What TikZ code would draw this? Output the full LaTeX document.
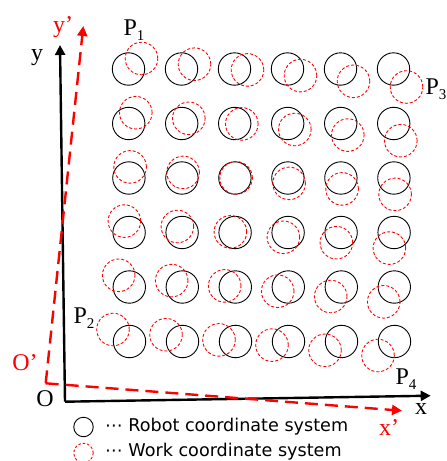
\documentclass[tikz,border=0pt]{standalone}
\usepackage{fontspec}
\setmainfont{Liberation Serif}
\newfontfamily\legendfont{DejaVu Sans}
\usetikzlibrary{arrows.meta}

\tikzset{
  robot/.style={circle, draw=black, line width=0.9pt, minimum size=32.4pt, inner sep=0pt},
  work/.style={circle, draw=red, line width=0.9pt, dash pattern=on 3pt off 2pt, minimum size=32.6pt, inner sep=0pt},
  axisline/.style={line width=2.4pt, black, -{Triangle[length=10pt,width=10pt]}},
  workaxis/.style={line width=2.4pt, red, dash pattern=on 13pt off 7pt, -{Triangle[length=10pt,width=10pt]}},
  lbl/.style={inner sep=0pt, font=\fontsize{24}{26}\selectfont},
  wlbl/.style={lbl, text=red},
  legtxt/.style={inner sep=0pt, anchor=west, font=\legendfont\fontsize{17.6}{19}\selectfont},
}
\newcommand{\pidx}[1]{P\raisebox{-5pt}{\fontsize{15}{15}\selectfont #1}}

\begin{document}
\begin{tikzpicture}[x=1pt, y=-1pt]
\useasboundingbox (0,0) rectangle (447,461);

% grid of target positions (robot frame) and measured positions (work frame)
\foreach \r in {0,...,5}{
  \foreach \c in {0,...,5}{
    \pgfmathsetmacro{\bx}{128.5+53*\c+0.2*\r}
    \pgfmathsetmacro{\by}{69+54.5*\r}
    \pgfmathsetmacro{\rx}{\bx+13-5.9*\r}
    \pgfmathsetmacro{\ry}{\by-10.5-0.3*\r+(5.7-0.1*\r)*\c}
    \node[robot] (rb-\r-\c) at (\bx,\by) {};
    \node[work] (wk-\r-\c) at (\rx,\ry) {};
  }
}

% robot coordinate axes
\coordinate (O) at (65,401.7);
\coordinate (Xend) at (430.7,395.7);
\coordinate (Yend) at (60,45);
\draw[axisline] (O) -- (Xend);
\draw[axisline] (O) -- (Yend);

% work coordinate axes
\coordinate (Op) at (45.7,383.3);
\coordinate (Xpend) at (402,410.7);
\coordinate (Ypend) at (83.3,26);
\draw[workaxis] (Op) -- (Xpend);
\draw[workaxis] (Op) -- (Ypend);

% axis and corner labels
\node[lbl] (ly) at (37,58) {y};
\node[wlbl] (lyp) at (63,27) {y’};
\node[lbl] (lO) at (45,399) {O};
\node[wlbl] (lOp) at (25,363) {O’};
\node[lbl] (lx) at (421,409) {x};
\node[wlbl] (lxp) at (389,428) {x’};
\node[lbl] (p1) at (134,30) {\pidx{1}};
\node[lbl] (p2) at (84,318) {\pidx{2}};
\node[lbl] (p3) at (436,89) {\pidx{3}};
\node[lbl] (p4) at (406,379) {\pidx{4}};

% legend
\node[robot, minimum size=19.5pt] (legR) at (83.5,427) {};
\node[work, minimum size=19.5pt, dash pattern=on 2.5pt off 2pt] (legW) at (83.5,453) {};
\node[legtxt] (legRt) at (105,427) {⋯ Robot coordinate system};
\node[legtxt] (legWt) at (105,452) {⋯ Work coordinate system};
\end{tikzpicture}
\end{document}
